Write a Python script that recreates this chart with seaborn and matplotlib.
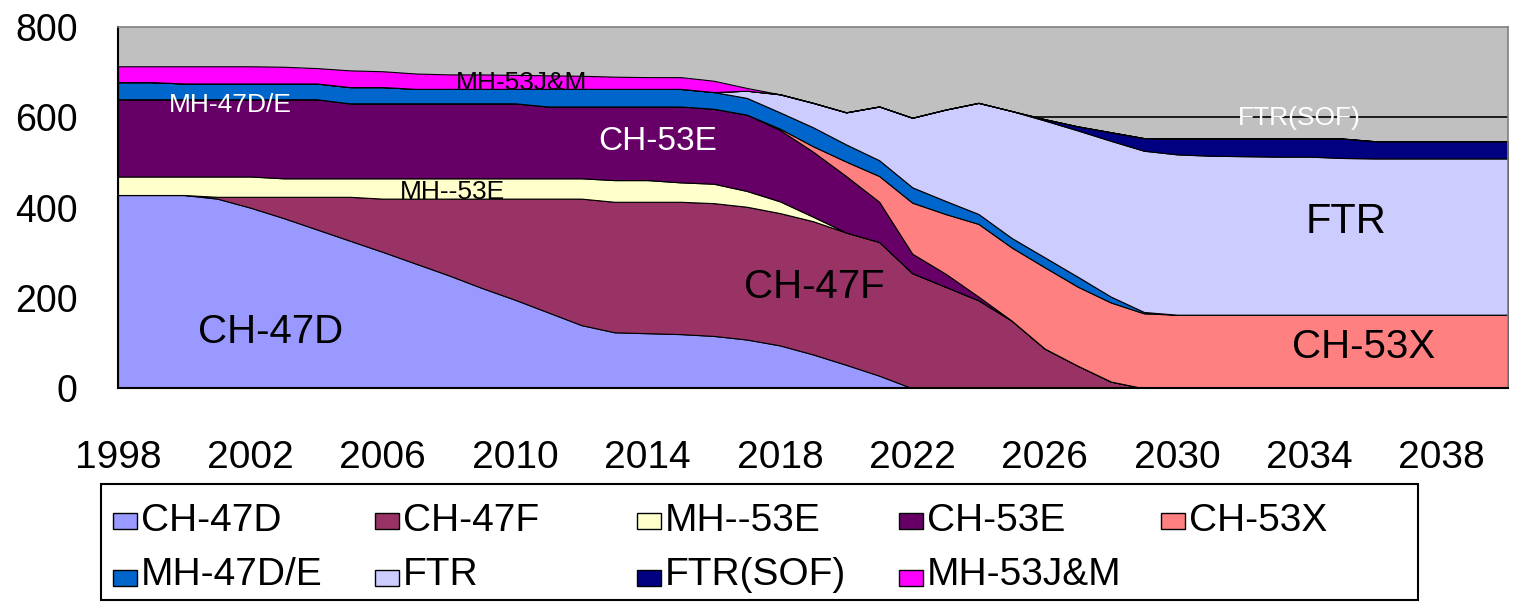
import matplotlib
matplotlib.use("Agg")
import matplotlib.pyplot as plt
from matplotlib.patches import Rectangle
import seaborn as sns

# Fleet size by year (stacked, bottom to top)
years = list(range(1998, 2041))

ch47d = [428, 428, 428, 420, 400, 377, 352, 327, 302, 276, 250, 222, 196, 168, 140, 124,
         122, 120, 116, 108, 95, 75, 52, 28] + [0] * 19
ch47f = [0, 0, 0, 4, 24, 47, 72, 97, 118, 144, 170, 198, 224, 252, 280, 289, 291, 293,
         294, 294, 293, 295, 293, 296, 255, 225, 195, 150, 88, 50, 15] + [0] * 12
mh53e = [41, 41, 41, 45, 45, 41, 41, 41] + [45] * 7 + [48, 48, 43, 43, 35, 26, 10] + [0] * 21
ch53e = [171] * 5 + [175] * 2 + [166] * 6 + [159] * 2 + [163] * 2 + \
        [168, 166, 169, 158, 144, 125, 89, 43, 29, 8] + [0] * 16
ch53x = [0] * 20 + [3, 12, 32, 57, 113, 132, 161, 162, 180, 175, 175, 166] + [163] * 11
mh47de = [38, 38] + [35] * 5 + [36, 36] + [32] * 4 + [39] * 5 + \
         [37, 37, 36, 42, 38, 35, 34, 29, 22, 21, 22, 22, 13, 3] + [0] * 11
ftr = [0] * 19 + [16, 40, 54, 71, 119, 154, 202, 246, 281, 303, 324, 345, 357, 355,
                  352, 351, 350, 350, 347] + [346] * 5
ftr_sof = [0] * 28 + [3, 9, 19, 28, 35, 38, 39, 40, 40, 43] + [38] * 5
mh53jm = [35, 35, 38, 38, 38, 37, 34, 37, 35, 34, 32, 32, 31, 30, 29, 27, 26, 26, 25, 6] + [0] * 23

series_names = ["CH-47D", "CH-47F", "MH--53E", "CH-53E", "CH-53X",
                "MH-47D/E", "FTR", "FTR(SOF)", "MH-53J&M"]
series_values = [ch47d, ch47f, mh53e, ch53e, ch53x, mh47de, ftr, ftr_sof, mh53jm]
series_colors = ["#9999FF", "#993366", "#FFFFCC", "#660066", "#FF8080",
                 "#0066CC", "#CCCCFF", "#000080", "#FF00FF"]

# requirement line drawn at 600
req_years = [2025.7, 2040]
req_values = [600, 600]

sns.set_theme(style="white")
plt.rcParams['font.family'] = ['Liberation Sans', 'DejaVu Sans']

W, H = 1520, 603
fig = plt.figure(figsize=(W / 100, H / 100), dpi=100)
ax = fig.add_axes([118 / W, 1 - 388.3 / H, (1508 - 118) / W, (388.3 - 27) / H])
ax.set_facecolor("#C0C0C0")

ax.stackplot(years, *series_values, colors=series_colors,
             edgecolor="black", linewidth=0.8)
sns.lineplot(x=req_years, y=req_values, color="black", linewidth=1.2, ax=ax, legend=False)
if ax.get_legend() is not None:
    ax.get_legend().remove()

ax.set_xlim(1998, 2040)
ax.set_ylim(0, 800)
ax.set_yticks([0, 200, 400, 600, 800])
ax.set_xticks(years)
ax.set_xticklabels([str(y) if (y - 1998) % 4 == 0 else "" for y in years])
ax.tick_params(axis="both", direction="out", length=11, width=1.2, color="black",
               labelcolor="black", labelsize=27)
ax.tick_params(axis="y", pad=18)
ax.tick_params(axis="x", pad=26, labelsize=28)
ax.set_xlabel("")
ax.set_ylabel("")

for side in ["left", "bottom"]:
    ax.spines[side].set_color("black")
    ax.spines[side].set_linewidth(1.5)
for side in ["top", "right"]:
    ax.spines[side].set_color("#808080")
    ax.spines[side].set_linewidth(1.2)

# in-chart labels
ax.text(2002.6, 100, "CH-47D", fontsize=29, color="black", ha="center", va="baseline")
ax.text(2001.4, 612, "MH-47D/E", fontsize=19, color="white", ha="center", va="baseline")
ax.text(2010.2, 660, "MH-53J&M", fontsize=19, color="black", ha="center", va="baseline")
ax.text(2008.1, 420, "MH--53E", fontsize=19, color="black", ha="center", va="baseline")
ax.text(2014.3, 527, "CH-53E", fontsize=24, color="white", ha="center", va="baseline")
ax.text(2019.05, 199, "CH-47F", fontsize=29, color="black", ha="center", va="baseline")
ax.text(2035.1, 343, "FTR", fontsize=30, color="black", ha="center", va="baseline")
ax.text(2035.65, 67, "CH-53X", fontsize=29, color="black", ha="center", va="baseline")
ax.text(2033.7, 582, "FTR(SOF)", fontsize=19, color="white", ha="center", va="baseline")

# legend box, laid out on a fixed 5-column grid
fig.patches.append(Rectangle((101 / W, 1 - 600 / H), (1418 - 101) / W, (600 - 484) / H,
                             transform=fig.transFigure, facecolor="white",
                             edgecolor="black", linewidth=1.5))
for i, (name, col) in enumerate(zip(series_names, series_colors)):
    row, c = divmod(i, 5)
    x0 = 113 + 262 * c
    sw_top = 513 + 57 * row
    base = 531 + 54 * row
    fig.patches.append(Rectangle((x0 / W, 1 - (sw_top + 16) / H), 24 / W, 16 / H,
                                 transform=fig.transFigure, facecolor=col,
                                 edgecolor="black", linewidth=1.0))
    fig.text((x0 + 28) / W, 1 - base / H, name, fontsize=28, color="black",
             ha="left", va="baseline")

fig.savefig("out.png", dpi=100)
